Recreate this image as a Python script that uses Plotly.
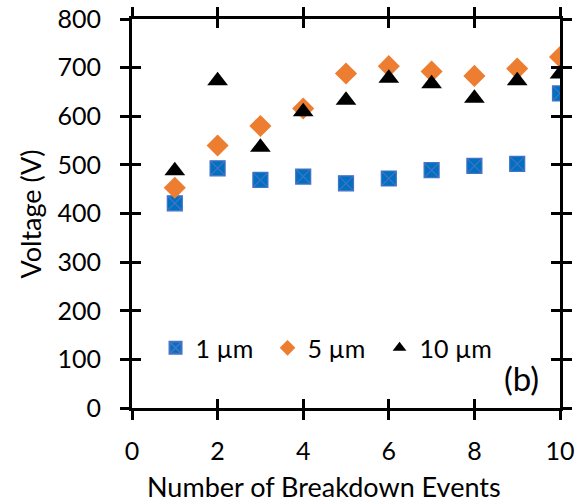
import plotly.graph_objects as go

# Breakdown voltage vs. number of breakdown events for three gap sizes
events = [1, 2, 3, 4, 5, 6, 7, 8, 9, 10]
v_1um = [421, 493, 469, 476, 462, 472, 489, 498, 502, 647]
v_5um = [453, 540, 580, 616, 688, 703, 692, 683, 698, 722]
v_10um = [488, 673, 536, 609, 633, 678, 667, 637, 673, 687]

series_names = ["1 µm", "5 µm", "10 µm"]
x_ticks = [0, 2, 4, 6, 8, 10]
y_ticks = [0, 100, 200, 300, 400, 500, 600, 700, 800]
x_title = "Number of Breakdown Events"
y_title = "Voltage (V)"
panel_label = "(b)"

FONT = "Lato, Calibri, Carlito, sans-serif"

fig = go.Figure()

fig.add_trace(go.Scatter(
    x=events, y=v_1um, mode="markers", name=series_names[0],
    marker=dict(symbol="square-x", size=15, color="#0070C0",
                line=dict(color="#4472C4", width=1.2)),
))
fig.add_trace(go.Scatter(
    x=events, y=v_5um, mode="markers", name=series_names[1],
    marker=dict(symbol="diamond", size=17, color="#ED7D31",
                line=dict(width=0)),
))
fig.add_trace(go.Scatter(
    x=events, y=v_10um, mode="markers", name=series_names[2],
    marker=dict(symbol="triangle-up", size=18, color="black",
                line=dict(width=0)),
))

# invisible trace that carries the inner tick set
fig.add_trace(go.Scatter(x=[0], y=[0], xaxis="x2", yaxis="y2", mode="markers",
                         marker=dict(opacity=0), showlegend=False, hoverinfo="skip"))

axis_common = dict(showgrid=False, zeroline=False, linecolor="black", linewidth=3,
                   tickcolor="black", tickwidth=3, ticklen=9, automargin=False)

fig.update_layout(
    width=575, height=502,
    margin=dict(l=132, r=15, t=19, b=94),
    paper_bgcolor="white", plot_bgcolor="white",
    font=dict(family=FONT, size=25, color="black"),
    xaxis=dict(range=[0, 10], tickvals=x_ticks, ticks="outside", mirror="ticks",
               showline=True, ticklabelstandoff=10, tickfont=dict(size=25),
               **axis_common),
    yaxis=dict(range=[0, 800], tickvals=y_ticks, ticks="outside", mirror="ticks",
               showline=True, ticklabelstandoff=14, tickfont=dict(size=25),
               **axis_common),
    xaxis2=dict(range=[0, 10], tickvals=x_ticks, ticks="inside", mirror="ticks",
                overlaying="x", showline=False, showticklabels=False, **axis_common),
    yaxis2=dict(range=[0, 800], tickvals=y_ticks, ticks="inside", mirror="ticks",
                overlaying="y", showline=False, showticklabels=False, **axis_common),
    legend=dict(orientation="h", x=0.055, y=0.154, xanchor="left", yanchor="middle",
                bgcolor="rgba(0,0,0,0)", font=dict(size=25),
                entrywidth=67, itemwidth=30, itemsizing="constant"),
    annotations=[
        dict(text=panel_label, x=0.955, y=0.02, xref="paper", yref="paper",
             xanchor="right", yanchor="bottom", showarrow=False,
             font=dict(size=33, family=FONT)),
        dict(text=x_title, x=0.449, y=-0.203, xref="paper", yref="paper",
             xanchor="center", yanchor="middle", showarrow=False,
             font=dict(size=27, family=FONT)),
        dict(text=y_title, x=-0.236, y=0.5, xref="paper", yref="paper",
             xanchor="center", yanchor="middle", showarrow=False, textangle=-90,
             font=dict(size=27, family=FONT)),
    ],
)

fig.write_html("out.html")
